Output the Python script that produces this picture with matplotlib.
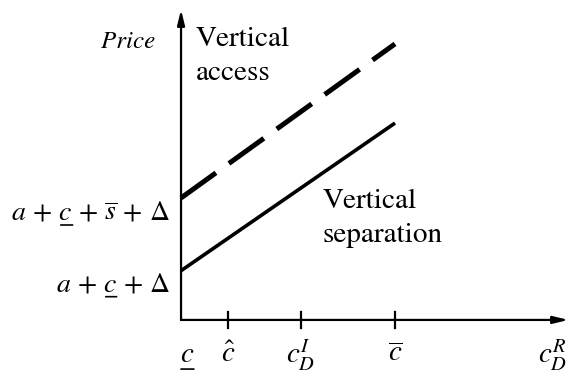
import matplotlib.pyplot as plt

# -------------------------------
# Chart data (cost on x, price on y, c_bar = 1)
# -------------------------------
c_low = 0.0
c_hat = 0.22
c_DI = 0.56
c_bar = 1.0
x_end = 1.81
y_end = 1.45

line_x = [c_low, c_bar]
separation_y = [0.23, 0.92]
access_y = [0.57, 1.29]

x_tick_pos = [c_hat, c_DI, c_bar]
x_labels = [r"$c$", r"$\hat{c}$", r"$c_D^I$", r"$\overline{c}$", r"$c_D^R$"]
x_label_pos = [0.03, c_hat, c_DI, c_bar, 1.735]
y_labels = [r"$a\,+\,c\,+\,\overline{s}\,+\,\Delta$", r"$a\,+\,c\,+\,\Delta$"]
y_label_pos = [0.50, 0.165]
# where the underlined c sits inside each label (fraction of label width)
y_under = [(0.31, 0.385), (0.435, 0.53)]

plt.rcParams["font.family"] = ["STIXGeneral", "Liberation Serif", "DejaVu Serif"]
plt.rcParams["mathtext.fontset"] = "stix"

fig = plt.figure(figsize=(5.69, 3.76), dpi=100)
ax = fig.add_axes([0, 0, 1, 1])
ax.set_xlim(-0.846, 1.813)
ax.set_ylim(-0.262, 1.495)
ax.axis("off")

# axes with arrows
arrow = dict(arrowstyle="-|>,head_length=0.9,head_width=0.22", color="black", lw=1.6, shrinkA=0, shrinkB=0)
ax.annotate("", xy=(x_end, 0), xytext=(0, 0), arrowprops=arrow)
ax.annotate("", xy=(0, y_end), xytext=(0, 0), arrowprops=arrow)

# tick marks
for xp in x_tick_pos:
    ax.plot([xp, xp], [-0.04, 0.035], color="black", lw=1.6)

# lines
ax.plot(line_x, separation_y, color="black", lw=2.6, solid_capstyle="butt")
ax.plot(line_x, access_y, color="black", lw=3.6, dashes=(8.6, 3.2), dash_capstyle="butt")

# labels
fs = 20
underline = dict(arrowstyle="-", color="black", lw=1.2, shrinkA=0, shrinkB=0)
for i, (lbl, xp) in enumerate(zip(x_labels, x_label_pos)):
    t = ax.text(xp, -0.165, lbl, fontsize=fs + 1, ha="center", va="center")
    if i == 0:
        ax.annotate("", xy=(0.95, -0.05), xycoords=t, xytext=(0.05, -0.05), textcoords=t, arrowprops=underline)
for lbl, yp, (u0, u1) in zip(y_labels, y_label_pos, y_under):
    t = ax.text(-0.05, yp, lbl, fontsize=fs, ha="right", va="center")
    ax.annotate("", xy=(u1, 0.02), xycoords=t, xytext=(u0, 0.02), textcoords=t, arrowprops=underline)

ax.text(-0.12, 1.30, "Price", fontsize=fs - 2, style="italic", ha="right", va="center")
ax.text(0.07, 1.37, "Vertical\naccess", fontsize=fs + 1, ha="left", va="top", linespacing=1.45)
ax.text(0.66, 0.612, "Vertical\nseparation", fontsize=fs + 1, ha="left", va="top", linespacing=1.45)

fig.savefig("out.png", dpi=100)
